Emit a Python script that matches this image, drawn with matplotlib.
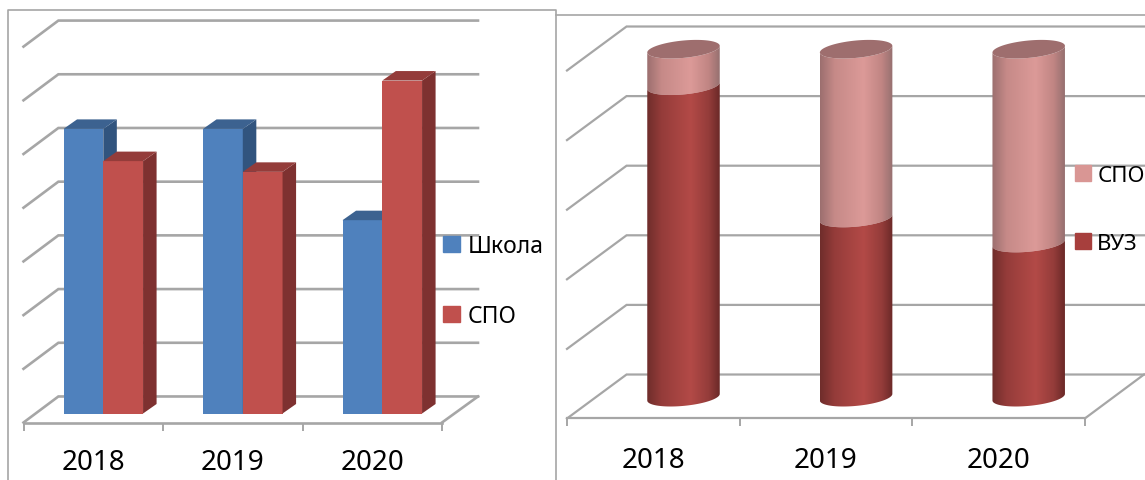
import numpy as np
import matplotlib
matplotlib.use('Agg')
import matplotlib.pyplot as plt
from matplotlib.colors import LinearSegmentedColormap
from matplotlib.lines import Line2D
from matplotlib.patches import Patch, Polygon

plt.rcParams['font.family'] = ['Noto Sans', 'DejaVu Sans']

W, H = 1145, 481
GREY = '#a6a6a6'

years = ['2018', '2019', '2020']

# left chart
school = [5.3, 5.3, 3.6]
spo_left = [4.7, 4.5, 6.2]

# right chart, percent
vuz = [89.5, 51.5, 44.3]
spo_right = [10.5, 48.5, 55.7]


def make_axes(fig, left_px, right_px, x0_px, px_per_x, y0_px, px_per_y):
    ax = fig.add_axes([left_px / W, 0, (right_px - left_px) / W, 1])
    ax.patch.set_alpha(0)
    ax.set_xlim((left_px - x0_px) / px_per_x, (right_px - x0_px) / px_per_x)
    ax.set_ylim((y0_px - H) / px_per_y, y0_px / px_per_y)
    for s in ['top', 'left', 'right']:
        ax.spines[s].set_visible(False)
    ax.yaxis.set_visible(False)
    return ax


def draw_walls(ax, floor, back, step, n, dx, right_back, lw, pad):
    ax.spines['bottom'].set_position(('data', floor))
    ax.spines['bottom'].set_bounds(0, 3)
    ax.spines['bottom'].set_color(GREY)
    ax.spines['bottom'].set_linewidth(lw)
    ax.set_xticks([0, 1, 2, 3])
    ax.set_xticklabels([])
    ax.set_xticks([0.5, 1.5, 2.5], years, minor=True)
    ax.tick_params(axis='x', which='major', length=6, width=1.4, color=GREY)
    ax.tick_params(axis='x', which='minor', length=0, labelsize=20, pad=pad)
    for k in range(n):
        ax.plot([0, dx, right_back], [floor + k * step, back + k * step, back + k * step],
                color=GREY, lw=lw, zorder=1, solid_joinstyle='miter')
    ax.plot([3, right_back], [floor, back], color=GREY, lw=lw, zorder=1)


def bar_3d(ax, x, w, val, color, side, top, dx, dy):
    ax.bar(x, val, width=w, align='edge', color=color, zorder=3)
    ax.add_patch(Polygon([(x + w, 0), (x + w + dx, dy), (x + w + dx, val + dy), (x + w, val)],
                         facecolor=side, zorder=3))
    ax.add_patch(Polygon([(x, val), (x + dx, val + dy), (x + w + dx, val + dy), (x + w, val)],
                         facecolor=top, zorder=3))


def cyl_part(ax, cx, a, b, sa, v0, v1, cmap):
    # one stacked piece of the cylinder, lower arcs at both ends
    t = np.linspace(np.pi, 2 * np.pi, 60)
    xs = cx + a * np.cos(t)
    arc = sa + sa * np.cos(t) + b * np.sin(t)
    pts = np.r_[np.c_[xs, v0 + arc], np.c_[xs[::-1], v1 + arc[::-1]]]
    grad = np.linspace(0, 1, 200).reshape(1, -1)
    im = ax.imshow(grad, cmap=cmap, aspect='auto', zorder=3, vmin=0, vmax=1,
                   extent=[cx - a, cx + a, v0 - 2 * b, v1 + 2 * sa + 2 * b])
    clip = Polygon(pts, transform=ax.transData, facecolor='none', edgecolor='none')
    ax.add_patch(clip)
    im.set_clip_path(clip)


fig = plt.figure(figsize=(W / 100, H / 100), dpi=100, facecolor='white')

# frames
for xs, ys in [([8, 8, 555.5, 555.5], [481, 11, 11, 481]), ([556, 1145], [16, 16])]:
    fig.add_artist(Line2D(np.array(xs) / W, 1 - np.array(ys) / H, color=GREY, lw=1.2))

# ---- left chart
ax1 = make_axes(fig, 0, 555, 23.5, 139.5, 414.5, 53.7)
xlim1, ylim1 = ax1.get_xlim(), ax1.get_ylim()
draw_walls(ax1, -0.168, 0.317, 1, 8, 0.25, 3.258, 1.9, 18.5)
bw = 0.285
for i in range(3):
    x = i + 0.287
    bar_3d(ax1, x, bw, school[i], '#4f81bd', '#31547e', '#3c6290', 0.097, 0.177)
    bar_3d(ax1, x + bw, bw, spo_left[i], '#c0504d', '#7e3130', '#943c3a', 0.097, 0.177)
ax1.set_xlim(xlim1)
ax1.set_ylim(ylim1)
ax1.legend(handles=[Patch(color='#4f81bd', label='Школа'), Patch(color='#c0504d', label='СПО')],
           loc='upper left', bbox_to_anchor=(443 / 555, 1 - 235 / H), frameon=False, fontsize=16.5,
           handlelength=0.74, handleheight=0.74, handletextpad=0.32, labelspacing=2.0,
           borderpad=0, borderaxespad=0)

# ---- right chart
ax2 = make_axes(fig, 556, 1145, 567, 172.6, 401.5, 3.48)
xlim2, ylim2 = ax2.get_xlim(), ax2.get_ylim()
draw_walls(ax2, -5.17, 7.47, 20, 6, 0.345, 3.343, 1.6, 20)
cmap_vuz = LinearSegmentedColormap.from_list('vuz', [(0, '#6f2d2b'), (0.2, '#953c3a'), (0.6, '#b34a47'),
                                                     (0.85, '#943c3a'), (1, '#6b2928')])
cmap_spo = LinearSegmentedColormap.from_list('spo', [(0, '#9c6f6f'), (0.2, '#c68a88'), (0.6, '#dc9a98'),
                                                     (0.85, '#c08583'), (1, '#967070')])
a, b, sa = 0.21, 2.5, 0.95
for i in range(3):
    cx = i + 0.675
    top = vuz[i] + spo_right[i]
    cyl_part(ax2, cx, a, b, sa, vuz[i], top, cmap_spo)
    cyl_part(ax2, cx, a, b, sa, 0, vuz[i], cmap_vuz)
    t = np.linspace(0, 2 * np.pi, 120)
    ax2.add_patch(Polygon(np.c_[cx + a * np.cos(t), top + sa + sa * np.cos(t) + b * np.sin(t)],
                          facecolor='#9e6e6e', zorder=4))
ax2.set_xlim(xlim2)
ax2.set_ylim(ylim2)
ax2.legend(handles=[Patch(color='#d99694', label='СПО'), Patch(color='#a73f3d', label='ВУЗ')],
           loc='upper left', bbox_to_anchor=(519 / 589, 1 - 166 / H), frameon=False, fontsize=16,
           handlelength=0.72, handleheight=0.72, handletextpad=0.28, labelspacing=2.1,
           borderpad=0, borderaxespad=0)

fig.savefig('out.png', dpi=100)
